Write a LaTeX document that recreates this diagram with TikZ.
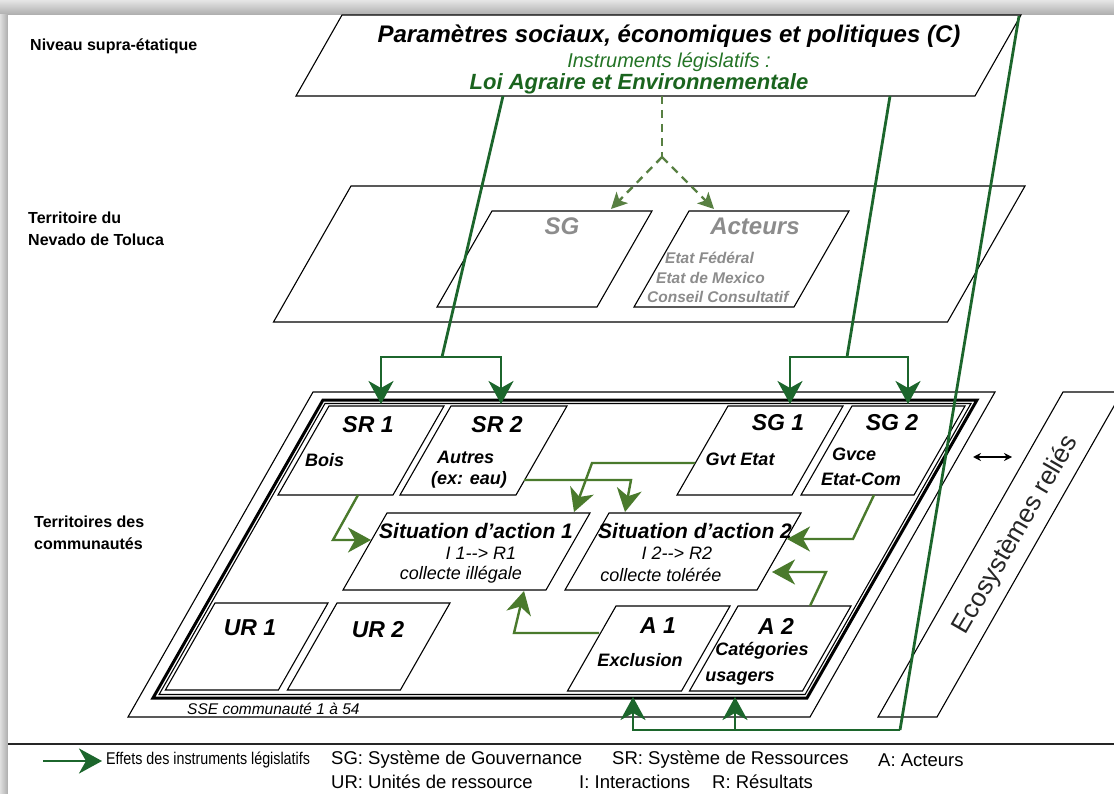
\documentclass[tikz,border=0pt]{standalone}
\usepackage{fontspec}
\setmainfont{Liberation Sans}
\usetikzlibrary{arrows.meta,calc}
\definecolor{gA}{RGB}{28,102,44}
\definecolor{gB}{RGB}{74,122,44}
\definecolor{gD}{RGB}{88,128,66}
\definecolor{gT}{RGB}{36,116,38}
\definecolor{gLoi}{RGB}{26,100,30}
\definecolor{txtgrey}{RGB}{140,140,140}
\newcommand\fsz[1]{\fontsize{#1}{#1}\selectfont}
\newcommand\pgram[6][]{\draw[pg,#1] (#2,#4) -- (#3,#4) -- ({#3-#6},#5) -- ({#2-#6},#5) -- cycle;}
\tikzset{
  pg/.style={draw=black,line width=1.1pt,fill=white,line join=miter},
  gline/.style={draw=gA,line width=2.8pt},
  gin/.style={draw=gB,line width=2.4pt},
  ghead/.style={-{Stealth[length=23pt,width=25pt,inset=7pt]}},
  dline/.style={draw=gD,line width=2.4pt,dash pattern=on 8pt off 6pt},
  dhead/.style={-{Stealth[length=16pt,width=16pt,inset=4pt]}},
  lbl/.style={inner sep=0pt,font=\fsz{16}\bfseries,anchor=west},
  bt/.style={inner sep=0pt,font=\fsz{23}\bfseries\itshape},
  desc/.style={inner sep=0pt,font=\fsz{18}\bfseries\itshape},
  sat/.style={inner sep=0pt,font=\fsz{21}\bfseries\itshape},
  sas/.style={inner sep=0pt,font=\fsz{18}\itshape},
  gtx/.style={inner sep=0pt,text=txtgrey,font=\fsz{15.5}\bfseries\itshape,anchor=west},
  leg/.style={inner sep=0pt,font=\fsz{18.5},anchor=west},
}
\begin{document}
\begin{tikzpicture}[x=1pt,y=-1pt]
\useasboundingbox (0,0) rectangle (1114,794);
\clip (0,0) rectangle (1114,794);
% frame
\fill[gray!55] (0,0) rectangle (1114,794);
\shade[top color=gray!20,bottom color=gray!65] (0,0) rectangle (1114,15);
\shade[left color=gray!25,right color=gray!65] (0,15) rectangle (8,794);
\fill[white] (8,15) rectangle (1114,794);
% separator
\coordinate (sepL) at (8,744);
\coordinate (sepR) at (1114,744);
\draw[line width=1.2pt,black!85] (sepL) -- (sepR);

% supra level
\pgram{342}{1021}{15}{96}{46}
\node[inner sep=0pt,font=\fsz{24}\bfseries\itshape] (titre) at (669,36) {Paramètres sociaux, économiques et politiques (C)};
\node[inner sep=0pt,font=\fsz{20}\itshape,text=gT] (instr) at (669,62) {Instruments législatifs :};
\node[inner sep=0pt,font=\fsz{22}\bfseries\itshape,text=gLoi] (loi) at (639,84) {Loi Agraire et Environnementale};

% Nevado level
\pgram{351}{1025}{186}{322}{77.5}
\pgram{492}{652}{211}{307}{55}
\pgram{689}{849}{211}{307}{55}
\node[inner sep=0pt,text=txtgrey,font=\fsz{24}\bfseries\itshape] (sg) at (562,226) {SG};
\node[inner sep=0pt,text=txtgrey,font=\fsz{24}\bfseries\itshape] (act) at (755,226) {Acteurs};
\node[gtx] (ef) at (665,258) {Etat Fédéral};
\node[gtx] (em) at (656,278) {Etat de Mexico};
\node[gtx] (cc) at (647,297) {Conseil Consultatif};

% community level
\pgram{313}{995}{392}{717}{185}
\pgram{1063}{1122}{392}{717}{185}
\pgram[line width=3pt,fill=none]{323}{977}{400}{698}{170}
\pgram[fill=none]{325}{971}{403.5}{694.5}{165.9}
\node[inner sep=0pt,font=\fsz{15.5}\itshape,anchor=west] (sse) at (187,709) {SSE communauté 1 à 54};
\node[inner sep=0pt,font=\fsz{26},text=black!85,rotate=60] (eco) at (1016,535) {Ecosystèmes reliés};
\coordinate (e1) at (973,457);
\coordinate (e2) at (1012,457);
\draw[line width=1.3pt,{Stealth[length=8pt,width=8pt]}-{Stealth[length=8pt,width=8pt]}] (e1) -- (e2);

\pgram{329}{444}{406}{495}{51}
\pgram{451}{567}{406}{495}{51}
\pgram{728}{843}{406}{495}{51}
\pgram{852}{965}{406}{495}{51}
\pgram{387}{590}{513}{590}{44}
\pgram{609}{801}{513}{590}{44}
\pgram{215}{328}{603}{690}{49.6}
\pgram{337}{450}{603}{690}{49.6}
\pgram{616}{730}{606}{691}{48.5}
\pgram{738}{851}{606}{691}{48.5}

\node[bt] (sr1) at (368,425) {SR 1};
\node[desc,anchor=west] (bois) at (305,460) {Bois};
\node[bt] (sr2) at (497,425) {SR 2};
\node[desc,anchor=west] (autres) at (437,457) {Autres};
\node[desc,anchor=west] (exeau) at (431,480) {(ex: eau)};
\node[bt] (sg1) at (778,423) {SG 1};
\node[desc] (gvt) at (740,459) {Gvt Etat};
\node[bt] (sg2) at (892,423) {SG 2};
\node[desc,anchor=west] (gvce) at (832,454) {Gvce};
\node[desc] (etcom) at (861,479) {Etat-Com};
\node[sat] (sa1) at (476,531) {Situation d'action 1};
\node[sas] (ir1) at (481,553) {I 1-\kern0pt-\kern0pt> R1};
\node[sas] (col1) at (461,575) {collecte illégale};
\node[sat] (sa2) at (695,531) {Situation d'action 2};
\node[sas] (ir2) at (677,553) {I 2-\kern0pt-\kern0pt> R2};
\node[sas] (col2) at (661,575) {collecte tolérée};
\node[bt] (ur1) at (250,628) {UR 1};
\node[bt] (ur2) at (378,630) {UR 2};
\node[bt] (a1) at (658,626) {A 1};
\node[desc] (excl) at (640,660) {Exclusion};
\node[bt] (a2) at (776,626) {A 2};
\node[desc] (cat) at (762,651) {Catégories};
\node[desc] (usa) at (740,679) {usagers};

% left labels
\node[lbl] (niv) at (30,46) {Niveau supra-étatique};
\node[lbl] (ter1) at (28,218) {Territoire du};
\node[lbl] (ter2) at (28,240) {Nevado de Toluca};
\node[lbl] (com1) at (34,522) {Territoires des};
\node[lbl] (com2) at (34,544) {communautés};

% dashed arrows
\coordinate (pD) at (662,96);
\coordinate (jD) at (662,157);
\coordinate (sgin) at (611,209);
\coordinate (actin) at (714,209);
\draw[dline] (pD) -- (jD);
\draw[dline,dhead] (jD) -- (sgin);
\draw[dline,dhead] (jD) -- (actin);

% main green lines
\coordinate (pA) at (503,96);
\coordinate (jA) at (442,357);
\coordinate (sr1in) at (381,404);
\coordinate (sr2in) at (501,404);
\draw[gline] (pA) -- (jA);
\draw[gline,ghead] (jA) -| (sr1in);
\draw[gline,ghead] (jA) -| (sr2in);
\coordinate (pB) at (890,96);
\coordinate (jB) at (847,357);
\coordinate (sg1in) at (790,404);
\coordinate (sg2in) at (908,404);
\draw[gline] (pB) -- (jB);
\draw[gline,ghead] (jB) -| (sg1in);
\draw[gline,ghead] (jB) -| (sg2in);
\coordinate (pC) at (1019,16);
\coordinate (cC) at (900,730);
\coordinate (a1in) at (633,697);
\coordinate (a2in) at (735,697);
\draw[gline] (pC) -- (cC);
\draw[gline,ghead] (cC) -| (a1in);
\draw[gline,ghead] (cC) -| (a2in);

% internal green connectors
\coordinate (sr1o) at (358,495);
\coordinate (b1) at (333,540);
\coordinate (sa1l) at (371,540);
\draw[gin,ghead] (sr1o) -- (b1) -- (sa1l);
\coordinate (sr2o) at (524,480);
\coordinate (b2) at (631,480);
\coordinate (sa2t) at (625,512);
\draw[gin,ghead] (sr2o) -- (b2) -- (sa2t);
\coordinate (sg1o) at (695,463);
\coordinate (b3) at (592,463);
\coordinate (sa1t) at (574,512);
\draw[gin,ghead] (sg1o) -- (b3) -- (sa1t);
\coordinate (sg2o) at (874,495);
\coordinate (b4) at (853,539);
\coordinate (sa2r) at (787,539);
\draw[gin,ghead] (sg2o) -- (b4) -- (sa2r);
\coordinate (a2o) at (810,606);
\coordinate (b5) at (826,572);
\coordinate (sa2r2) at (772,572);
\draw[gin,ghead] (a2o) -- (b5) -- (sa2r2);
\coordinate (a1o) at (599,633);
\coordinate (b6) at (514,633);
\coordinate (sa1b) at (524,591);
\draw[gin,ghead] (a1o) -- (b6) -- (sa1b);

% legend
\coordinate (lg1) at (43,761);
\coordinate (lg2) at (102,761);
\draw[gline,ghead] (lg1) -- (lg2);
\node[leg,font=\fsz{17}] (l0) at (106,760) {\addfontfeatures{FakeStretch=0.84}Effets des instruments législatifs};
\node[leg] (l1) at (331,760) {SG: Système de Gouvernance};
\node[leg] (l2) at (612,760) {SR: Système de Ressources};
\node[leg] (l3) at (878,760) {A: Acteurs};
\node[leg] (l4) at (331,782) {UR: Unités de ressource};
\node[leg] (l5) at (579,782) {I: Interactions};
\node[leg] (l6) at (712,782) {R: Résultats};
\end{tikzpicture}
\end{document}
